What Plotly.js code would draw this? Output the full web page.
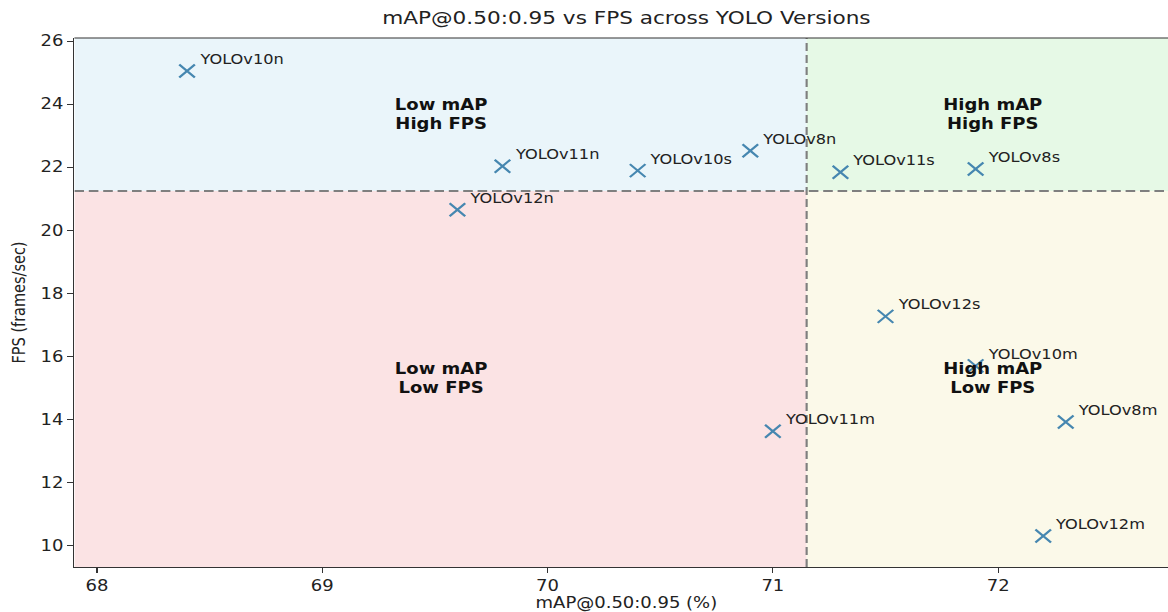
<!DOCTYPE html>
<html>
<head>
<meta charset="utf-8">
<script src="https://cdn.plot.ly/plotly-3.0.1.min.js"></script>
<style>
  html, body { margin: 0; padding: 0; background: #fff; overflow: hidden; }
  #wrap { width: 1168px; height: 612px; overflow: hidden; position: relative; }
  #plot { width: 992px; height: 612px; transform: scaleX(1.2); transform-origin: 0 0; }
</style>
</head>
<body>
<div id="wrap"><div id="plot"></div></div>
<script>
// ---- data ----
const models = ["YOLOv10n","YOLOv11n","YOLOv12n","YOLOv10s","YOLOv8n","YOLOv11s","YOLOv8s","YOLOv12s","YOLOv10m","YOLOv8m","YOLOv12m","YOLOv11m"];
const mapValues = [68.4, 69.8, 69.6, 70.4, 70.9, 71.3, 71.9, 71.5, 71.9, 72.3, 72.2, 71.0];
const fpsValues = [25.05, 22.03, 20.65, 21.89, 22.52, 21.84, 21.94, 17.27, 15.7, 13.92, 10.31, 13.63];
const xTicks = [68, 69, 70, 71, 72];
const yTicks = [10, 12, 14, 16, 18, 20, 22, 24, 26];
const quadrantLabels = ["Low mAP<br>High FPS", "High mAP<br>High FPS", "Low mAP<br>Low FPS", "High mAP<br>Low FPS"];

// ---- axis limits and thresholds ----
const xRange = [67.9, 72.8];
const yRange = [9.325, 26.095];
function median(a) {
  const s = a.slice().sort((p, q) => p - q);
  const m = Math.floor(s.length / 2);
  return s.length % 2 ? s[m] : (s[m - 1] + s[m]) / 2;
}
const xMed = median(mapValues);
const yMed = median(fpsValues);

const FONT = "DejaVu Sans, sans-serif";
const TXT = "#222222";

const quadColors = ["#EAF5FA", "#E6F9E6", "#FBE3E4", "#FBF9E9"];
const quads = [
  [xRange[0], xMed, yMed, yRange[1]],
  [xMed, xRange[1], yMed, yRange[1]],
  [xRange[0], xMed, yRange[0], yMed],
  [xMed, xRange[1], yRange[0], yMed]
];

const shapes = quads.map((q, i) => ({
  type: "rect", xref: "x", yref: "y", layer: "below",
  x0: q[0], x1: q[1], y0: q[2], y1: q[3],
  fillcolor: quadColors[i], line: { width: 0 }
}));
shapes.push({ type: "line", xref: "x", yref: "y", layer: "below",
  x0: xMed, x1: xMed, y0: yRange[0], y1: yRange[1],
  line: { color: "#7f7f7f", width: 1.8, dash: "8px,4px" } });
shapes.push({ type: "line", xref: "x", yref: "y", layer: "below",
  x0: xRange[0], x1: xRange[1], y0: yMed, y1: yMed,
  line: { color: "#7f7f7f", width: 1.8, dash: "8px,4px" } });
shapes.push({ type: "line", xref: "paper", yref: "paper",
  x0: 0, x1: 1, y0: 1, y1: 1, line: { color: "#333333", width: 1.2 } });

const annotations = models.map((m, i) => ({
  x: mapValues[i], y: fpsValues[i], xref: "x", yref: "y",
  text: m, showarrow: false, xanchor: "left", yanchor: "middle",
  xshift: 8, yshift: 12,
  font: { family: FONT, size: 13.5, color: TXT }
}));
const qCenters = quads.map(q => [(q[0] + q[1]) / 2, (q[2] + q[3]) / 2]);
quadrantLabels.forEach((t, i) => {
  annotations.push({
    x: qCenters[i][0], y: qCenters[i][1], xref: "x", yref: "y",
    text: "<b>" + t + "</b>", showarrow: false, align: "center",
    xanchor: "center", yanchor: "middle",
    font: { family: FONT, size: 15, color: "#111111" }
  });
});

const trace = {
  type: "scatter", mode: "markers",
  x: mapValues, y: fpsValues, text: models,
  marker: { symbol: "x-thin", size: 13, color: "#4687b0",
            line: { color: "#4687b0", width: 2 } },
  hoverinfo: "text+x+y", showlegend: false
};

const layout = {
  width: 992, height: 612,
  margin: { l: 62, r: 10, t: 38, b: 45 },
  paper_bgcolor: "#ffffff", plot_bgcolor: "#ffffff",
  font: { family: FONT, color: TXT },
  title: { text: "mAP@0.50:0.95 vs FPS across YOLO Versions",
           font: { family: FONT, size: 18, color: TXT },
           x: 0.5, xref: "paper", xanchor: "center",
           y: 1 - 18 / 612, yref: "container", yanchor: "middle" },
  xaxis: {
    range: xRange, tickvals: xTicks, ticktext: xTicks.map(String),
    showgrid: false, zeroline: false,
    showline: true, linecolor: "#333333", linewidth: 1.2,
    ticks: "outside", ticklen: 5, tickwidth: 1.1, tickcolor: "#333333",
    tickfont: { family: FONT, size: 15, color: TXT },
    title: { text: "mAP@0.50:0.95 (%)", standoff: 3,
             font: { family: FONT, size: 15, color: TXT } },
    automargin: false
  },
  yaxis: {
    range: yRange, tickvals: yTicks, ticktext: yTicks.map(String),
    showgrid: false, zeroline: false,
    showline: true, linecolor: "#333333", linewidth: 1.2,
    ticks: "outside", ticklen: 5, tickwidth: 1.1, tickcolor: "#333333",
    tickfont: { family: FONT, size: 15, color: TXT },
    title: { text: "FPS (frames/sec)", standoff: 8,
             font: { family: FONT, size: 14.5, color: TXT } },
    automargin: false
  },
  shapes: shapes,
  annotations: annotations
};

Plotly.newPlot("plot", [trace], layout, { displayModeBar: false, responsive: false });
</script>
</body>
</html>
